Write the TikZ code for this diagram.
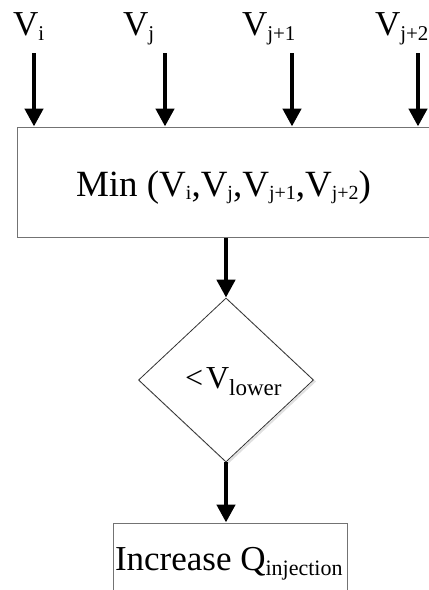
\documentclass[tikz,border=0pt]{standalone}
\usepackage{fontspec}
\setmainfont{Liberation Serif}
\usetikzlibrary{arrows.meta,shapes.geometric}
\newcommand{\sbs}[3]{\raisebox{-#1}{\fontsize{#2}{#2}\selectfont #3}}
\tikzset{
  flow/.style={line width=4.5pt,-{Triangle[width=18pt,length=18pt]}},
  boxshape/.style={draw=black!55,line width=1pt,rectangle,inner sep=0pt},
  decshape/.style={draw=black!80,line width=0.8pt,diamond,inner sep=0pt,aspect=1.07},
  lbl/.style={anchor=base west,inner sep=0pt,outer sep=0pt},
}
\begin{document}
\begin{tikzpicture}[x=1pt,y=-1pt]
\useasboundingbox (0,0) rectangle (429,590);
% top box
\node[boxshape,minimum width=425pt,minimum height=110pt] (minbox) at (229.5,182) {};
\node[lbl,font=\fontsize{37}{40}\selectfont] (mintext) at (76,196)
  {Min (V\sbs{3pt}{20}{i},V\sbs{3pt}{20}{j},V\sbs{3pt}{20}{j+1},V\sbs{3pt}{20}{j+2})};
% input labels
\node[lbl,font=\fontsize{35}{40}\selectfont] (vi) at (13,35) {V\sbs{5pt}{21}{i}};
\node[lbl,font=\fontsize{35}{40}\selectfont] (vj) at (123,35) {V\sbs{5pt}{21}{j}};
\node[lbl,font=\fontsize{35}{40}\selectfont] (vj1) at (242,35) {V\sbs{5pt}{21}{j+1}};
\node[lbl,font=\fontsize{35}{40}\selectfont] (vj2) at (375,35) {V\sbs{5pt}{21}{j+2}};
% arrow start points
\coordinate (a1) at (34,53);
\coordinate (a2) at (165,53);
\coordinate (a3) at (292,53);
\coordinate (a4) at (418,53);
\draw[flow] (a1) -- (a1 |- minbox.north);
\draw[flow] (a2) -- (a2 |- minbox.north);
\draw[flow] (a3) -- (a3 |- minbox.north);
\draw[flow] (a4) -- (a4 |- minbox.north);
% decision
\node[draw=black!12,line width=2pt,diamond,inner sep=0pt,aspect=1.07,minimum width=175pt,minimum height=164pt] (decshadow) at (227.5,381.5) {};
\node[decshape,fill=white,minimum width=175pt,minimum height=164pt] (dec) at (226,380) {};
\node[lbl,font=\fontsize{32}{36}\selectfont] (dectext) at (185,388) {<\kern3pt V\sbs{7pt}{23}{lower}};
\draw[flow] (dec.north |- minbox.south) -- (dec.north);
% bottom box
\node[boxshape,minimum width=234pt,minimum height=90pt] (incbox) at (230,568) {};
\node[lbl,font=\fontsize{35}{40}\selectfont] (inctext) at (115,570) {Increase Q\sbs{5pt}{22}{injection}};
\draw[flow] (dec.south) -- (dec.south |- incbox.north);
\end{tikzpicture}
\end{document}
